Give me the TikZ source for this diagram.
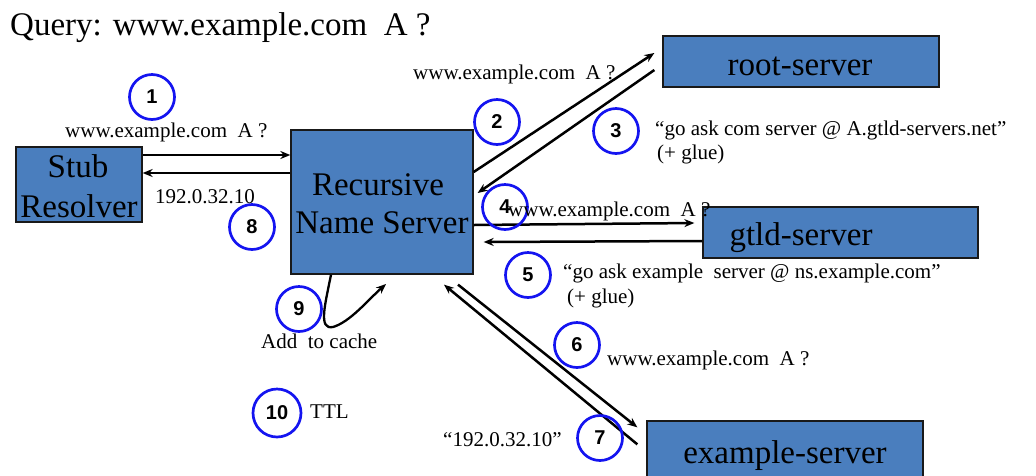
\documentclass[tikz,border=0pt]{standalone}
\usepackage{fontspec}
\setmainfont{Liberation Serif}
\newfontfamily\numfont{Liberation Sans}
\usetikzlibrary{arrows.meta}
\definecolor{boxblue}{HTML}{4A7EBE}
\definecolor{circblue}{HTML}{1414F0}
\begin{document}
\begin{tikzpicture}[x=1pt,y=-1pt,
  srv/.style={draw=black!90,line width=1.3pt,fill=boxblue,inner sep=0pt},
  big/.style={font=\fontsize{33}{38}\selectfont,inner sep=0pt,anchor=base},
  lab/.style={font=\fontsize{21}{25}\selectfont,inner sep=0pt,anchor=base west},
  num/.style={circle,draw=circblue,line width=2.7pt,minimum size=45pt,inner sep=0pt,font=\numfont\bfseries\fontsize{20}{20}\selectfont},
  arr/.style={line width=2.5pt,-{Stealth[length=10pt,width=8pt]}}]
\useasboundingbox (0,0) rectangle (1036,475);
% boxes
\node[srv,minimum width=126pt,minimum height=75pt] (stub) at (79,184.5) {};
\node[srv,minimum width=182pt,minimum height=144pt] (rns) at (382,202) {};
\node[srv,minimum width=276pt,minimum height=51pt] (root) at (801,61.5) {};
\node[srv,minimum width=275pt,minimum height=51pt] (gtld) at (840.5,232.5) {};
\node[srv,minimum width=276pt,minimum height=80pt] (ex) at (785,461) {};
% box texts
\node[big] (stubA) at (78,177) {Stub};
\node[big] (stubB) at (79,217) {Resolver};
\node[big] (rnsA) at (378,195) {Recursive};
\node[big] (rnsB) at (382,233) {Name Server};
\node[big] (rootT) at (800,75) {root-server};
\node[big] (gtldT) at (801,245) {gtld-server};
\node[big] (exT) at (785,463) {example-server};
% title
\node[font=\fontsize{33}{38}\selectfont,inner sep=0pt,anchor=base west] (title) at (10,35) {Query: www.example.com\ \ A ?};
% arrows
\draw[arr] ([yshift=29.5pt]stub.east) -- ([yshift=47pt]rns.west);
\draw[arr] ([yshift=29pt]rns.west) -- ([yshift=11.5pt]stub.east);
\draw[arr] ([yshift=30pt]rns.east) -- ([xshift=-8pt,yshift=8.5pt]root.west);
\draw[arr] ([xshift=-8pt,yshift=-8.5pt]root.west) -- ([xshift=4pt,yshift=9pt]rns.east);
\draw[arr] ([yshift=-23pt]rns.east) -- ([xshift=-8pt,yshift=9.5pt]gtld.west);
\draw[arr] ([yshift=-8.5pt]gtld.west) -- ([xshift=10pt,yshift=-40pt]rns.east);
\draw[arr] ([xshift=76pt,yshift=-10pt]rns.south) -- ([xshift=-9pt,yshift=-7pt]ex.north west);
\draw[arr] ([xshift=-9pt,yshift=-24pt]ex.north west) -- ([xshift=62pt,yshift=-10pt]rns.south);
\coordinate (cacheEnd) at (386,284);
\draw[line width=2.3pt,-{Stealth[length=10pt,width=8pt]}] ([xshift=-51pt]rns.south) .. controls (325,305) and (318,330) .. (333,327) .. controls (350,322) and (368,300) .. (cacheEnd);
% step circles
\node[num] (n1) at (152,97) {1};
\node[num] (n2) at (497,122) {2};
\node[num] (n3) at (616,131) {3};
\node[num] (n4) at (505,207) {4};
\node[num] (n5) at (528,275) {5};
\node[num] (n6) at (577,345) {6};
\node[num] (n7) at (600,438) {7};
\node[num] (n8) at (252,227) {8};
\node[num] (n9) at (299,309) {9};
\node[num,minimum size=48pt] (n10) at (277,413) {10};
% labels
\node[lab] (l1) at (65,137) {www.example.com\ \ A ?};
\node[lab] (l8) at (155,203) {192.0.32.10};
\node[lab] (l2) at (413,79) {www.example.com\ \ A ?};
\node[lab] (l3a) at (655,135) {“go ask com server @ A.gtld-servers.net”};
\node[lab] (l3b) at (657,159) {(+ glue)};
\node[lab] (l4) at (508,216) {www.example.com\ \ A ?};
\node[lab] (l5a) at (563,278) {“go ask example\ \ server @ ns.example.com”};
\node[lab] (l5b) at (567,303) {(+ glue)};
\node[lab] (l6) at (607,365) {www.example.com\ \ A ?};
\node[lab] (l7) at (443,446) {“192.0.32.10”};
\node[lab] (l9) at (261,348) {Add\ \ to cache};
\node[lab] (l10) at (310,418) {TTL};
\end{tikzpicture}
\end{document}
